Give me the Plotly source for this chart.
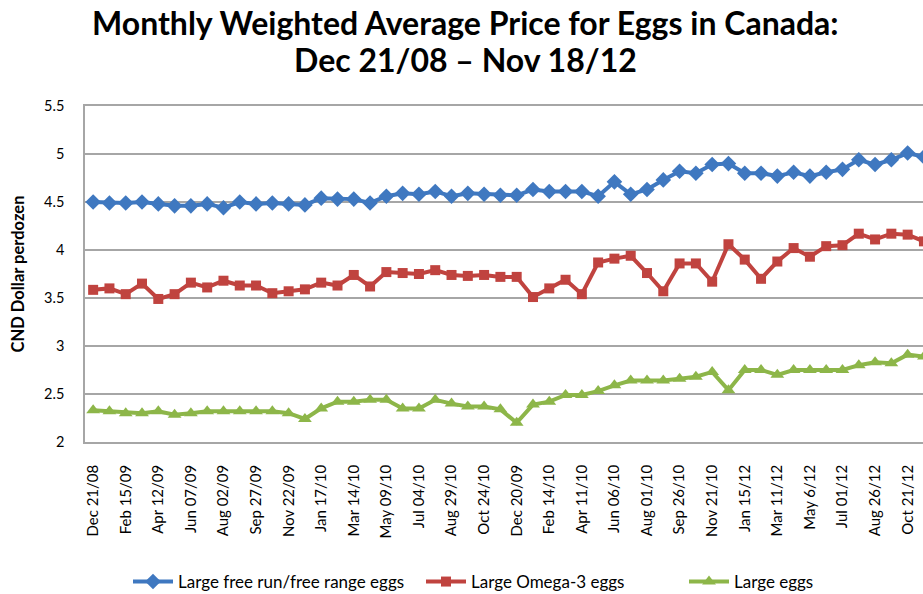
import plotly.graph_objects as go

# ---- data ----
periods = list(range(52))
tick_labels = ["Dec 21/08", "Feb 15/09", "Apr 12/09", "Jun 07/09", "Aug 02/09", "Sep 27/09",
               "Nov 22/09", "Jan 17/10", "Mar 14/10", "May 09/10", "Jul 04/10", "Aug 29/10",
               "Oct 24/10", "Dec 20/09", "Feb 14/10", "Apr 11/10", "Jun 06/10", "Aug 01/10",
               "Sep 26/10", "Nov 21/10", "Jan 15/12", "Mar 11/12", "May 6/12", "Jul 01/12",
               "Aug 26/12", "Oct 21/12"]
tick_positions = periods[::2]

free_run = [4.50, 4.49, 4.49, 4.50, 4.48, 4.46, 4.46, 4.48, 4.44, 4.50, 4.48, 4.49, 4.48,
            4.47, 4.54, 4.53, 4.53, 4.49, 4.56, 4.59, 4.58, 4.61, 4.56, 4.59, 4.58, 4.57,
            4.57, 4.63, 4.61, 4.61, 4.61, 4.56, 4.71, 4.58, 4.63, 4.73, 4.82, 4.80, 4.89,
            4.90, 4.80, 4.80, 4.77, 4.81, 4.77, 4.81, 4.84, 4.94, 4.89, 4.94, 5.01, 4.97]
omega3 = [3.585, 3.60, 3.54, 3.65, 3.49, 3.54, 3.66, 3.61, 3.68, 3.63, 3.63, 3.55, 3.57,
          3.59, 3.66, 3.63, 3.74, 3.62, 3.77, 3.76, 3.75, 3.79, 3.74, 3.73, 3.74, 3.72,
          3.72, 3.51, 3.60, 3.69, 3.54, 3.87, 3.91, 3.94, 3.76, 3.57, 3.86, 3.86, 3.67,
          4.06, 3.90, 3.70, 3.88, 4.02, 3.93, 4.04, 4.05, 4.17, 4.11, 4.17, 4.16, 4.09]
large = [2.33, 2.32, 2.30, 2.30, 2.32, 2.285, 2.30, 2.32, 2.32, 2.32, 2.32, 2.32, 2.30,
         2.24, 2.35, 2.42, 2.42, 2.44, 2.44, 2.35, 2.35, 2.44, 2.40, 2.37, 2.37, 2.34,
         2.20, 2.39, 2.42, 2.49, 2.49, 2.53, 2.59, 2.64, 2.64, 2.64, 2.66, 2.68, 2.73,
         2.54, 2.75, 2.75, 2.70, 2.75, 2.75, 2.75, 2.75, 2.80, 2.83, 2.82, 2.91, 2.89]

series_names = ["Large free run/free range eggs", "Large Omega-3 eggs", "Large eggs"]
colors = ["#3F78C0", "#C0433F", "#8DB649"]
symbols = ["diamond", "square", "triangle-up"]
sizes = [12, 10, 12]
legend_ids = ["legend", "legend2", "legend3"]

FONT = "Lato, Carlito, Calibri, sans-serif"

# page body margin is removed below, so figure coords = page coords
L_MARGIN = 85
PLOT_TOP, PLOT_BOTTOM = 106.0, 442.3
PLOT_H = PLOT_BOTTOM - PLOT_TOP
W, H = 923, 594
PLOT_W = W - L_MARGIN


def paper_y(py):
    return (PLOT_BOTTOM - py) / PLOT_H


def paper_x(px):
    return (px - L_MARGIN) / PLOT_W


fig = go.Figure()
for name, vals, col, sym, sz, lg in zip(series_names, [free_run, omega3, large], colors,
                                        symbols, sizes, legend_ids):
    fig.add_trace(go.Scatter(
        x=periods, y=vals, name=name, mode="lines+markers",
        line=dict(color=col, width=4),
        marker=dict(symbol=sym, size=sz, color=col, line=dict(width=0)),
        legend=lg,
    ))

legend_common = dict(orientation="h", xanchor="left", yanchor="middle",
                     xref="container", yref="container", y=1 - 582 / H,
                     font=dict(family=FONT, size=17, color="#000000"), itemwidth=40,
                     bgcolor="rgba(0,0,0,0)")

fig.update_layout(
    width=W, height=H,
    margin=dict(l=L_MARGIN, r=0, t=PLOT_TOP, b=H - PLOT_BOTTOM),
    paper_bgcolor="white", plot_bgcolor="white",
    font=dict(family=FONT, size=13, color="#000000"),
    showlegend=True,
    legend=dict(x=128 / W, **legend_common),
    legend2=dict(x=421 / W, **legend_common),
    legend3=dict(x=684 / W, **legend_common),
    annotations=[
        dict(text="<b>Monthly Weighted Average Price for Eggs in Canada:</b>",
             xref="paper", yref="paper", x=paper_x(465), y=paper_y(22),
             xanchor="center", yanchor="middle", showarrow=False,
             font=dict(family=FONT, size=32, color="#000000")),
        dict(text="<b>Dec 21/08 – Nov 18/12</b>",
             xref="paper", yref="paper", x=paper_x(465), y=paper_y(59.5),
             xanchor="center", yanchor="middle", showarrow=False,
             font=dict(family=FONT, size=32, color="#000000")),
    ],
)

fig.update_xaxes(
    automargin=False,
    range=[-0.5, -0.5 + PLOT_W / 16.29], tickmode="array", tickvals=tick_positions,
    ticktext=tick_labels,
    tickangle=-90, tickfont=dict(family=FONT, size=15, color="#000000"),
    showgrid=False, zeroline=False,
    showline=True, linecolor="#A6A6A6", linewidth=1.5, mirror=True,
    ticks="outside", ticklen=15, tickcolor="rgba(0,0,0,0)",
)
fig.update_yaxes(
    automargin=False,
    range=[2, 5.5], dtick=0.5, tickformat="~g",
    tickfont=dict(family=FONT, size=14.5, color="#000000"),
    showgrid=True, gridcolor="#A6A6A6", gridwidth=1.5, zeroline=False,
    showline=True, linecolor="#A6A6A6", linewidth=1.5,
    ticks="outside", ticklen=16, tickcolor="rgba(0,0,0,0)",
    title=dict(text="<b>CND Dollar perdozen</b>",
               font=dict(family=FONT, size=16.5, color="#000000"), standoff=15),
)

fig.write_html("out.html", config={"displayModeBar": False},
               post_script="document.body.style.margin='0px';document.body.style.overflow='hidden';")
